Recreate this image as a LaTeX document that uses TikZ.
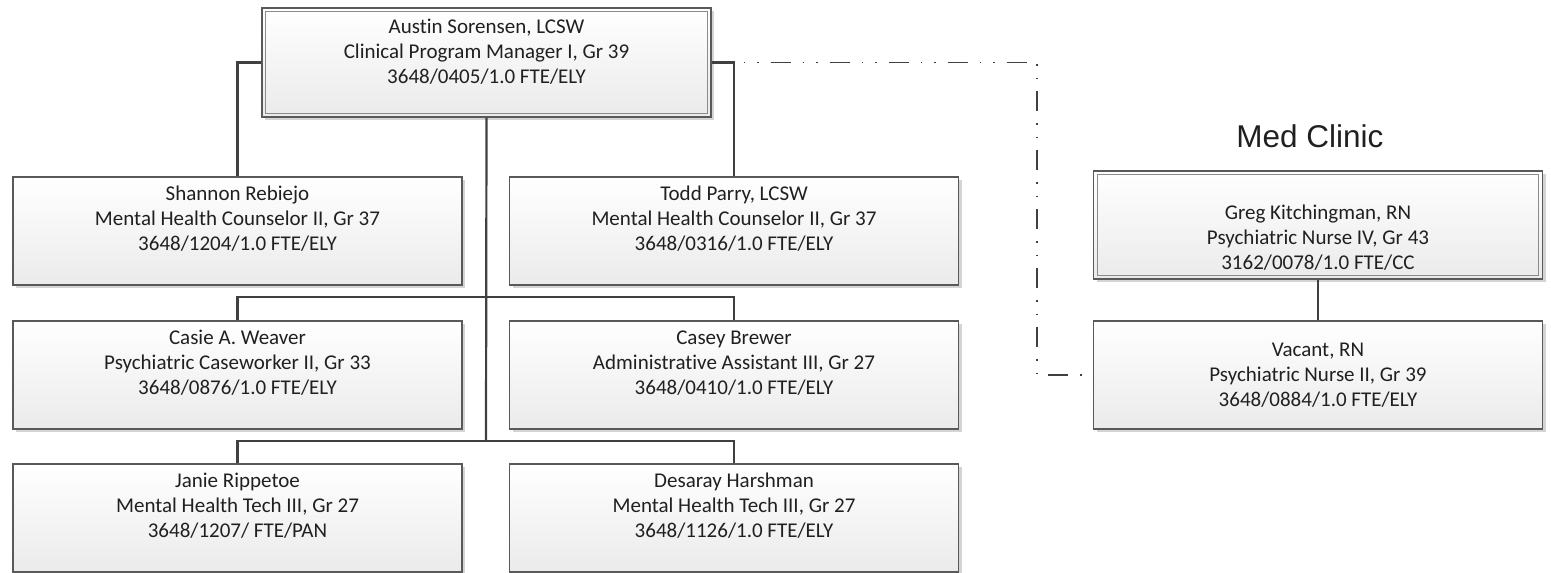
\documentclass[tikz,border=0pt]{standalone}
\usepackage{fontspec}
\setmainfont{Carlito}[Ligatures=NoCommon]
\newfontfamily\titlefont{Liberation Sans}
\usetikzlibrary{calc,shadows}
\definecolor{edge}{HTML}{595959}
\definecolor{wire}{HTML}{404040}
\definecolor{ink}{HTML}{202020}
\tikzset{
	unit/.style={draw=edge, line width=1.2pt, minimum width=449pt, minimum height=108pt, top color=white, bottom color=black!8,
		drop shadow={shadow xshift=3pt, shadow yshift=-3pt, fill=black!17, opacity=1}},
	info/.style={align=center, text=ink, font=\fontsize{21}{25}\selectfont, inner sep=0pt},
	link/.style={draw=wire, line width=2.2pt},
	dashlink/.style={draw=wire, line width=1.6pt, dash pattern=on 20pt off 12pt on 1.5pt off 12pt on 1.5pt off 12pt},
	frame/.style={draw=edge!70, line width=1pt}
}

\begin{document}
\begin{tikzpicture}[x=1pt, y=-1pt]
		%%%%% START %%%%%
		\useasboundingbox (0, 0) rectangle (1551, 573);
		
		\node[unit, minimum height=109pt] (austin) at (486.5, 62.5) {};
		\draw[frame] ($(austin.north west)+(4.5, 4.5)$) rectangle ($(austin.south east)+(-4.5, -4.5)$);
		\node[info] (austin-t) at ([yshift=11pt]austin.center) {Austin Sorensen, LCSW\\Clinical Program Manager I, Gr 39\\3648/0405/1.0 FTE/ELY};
		
		\node[unit] (shannon) at (237.5, 231) {};
		\node[info] (shannon-t) at ([yshift=12pt]shannon.center) {Shannon Rebiejo\\Mental Health Counselor II, Gr 37\\3648/1204/1.0 FTE/ELY};
		\node[unit] (todd) at (734, 231) {};
		\node[info] (todd-t) at ([yshift=12pt]todd.center) {Todd Parry, LCSW\\Mental Health Counselor II, Gr 37\\3648/0316/1.0 FTE/ELY};
		
		\node[unit] (casie) at (237.5, 375) {};
		\node[info] (casie-t) at ([yshift=12pt]casie.center) {Casie A. Weaver\\Psychiatric Caseworker II, Gr 33\\3648/0876/1.0 FTE/ELY};
		\node[unit] (casey) at (734, 375) {};
		\node[info] (casey-t) at ([yshift=12pt]casey.center) {Casey Brewer\\Administrative Assistant III, Gr 27\\3648/0410/1.0 FTE/ELY};
		
		\node[unit] (janie) at (237.5, 518) {};
		\node[info] (janie-t) at ([yshift=12pt]janie.center) {Janie Rippetoe\\Mental Health Tech III, Gr 27\\3648/1207/ FTE/PAN};
		\node[unit] (desaray) at (734, 518) {};
		\node[info] (desaray-t) at ([yshift=12pt]desaray.center) {Desaray Harshman\\Mental Health Tech III, Gr 27\\3648/1126/1.0 FTE/ELY};
		
		% med clinic
		\node[font=\titlefont\fontsize{31.5}{36}\selectfont, text=ink] (clinic) at (1310, 136) {Med Clinic};
		\node[unit] (greg) at (1318, 225) {};
		\draw[frame] ($(greg.north west)+(4.5, 4.5)$) rectangle ($(greg.south east)+(-4.5, -4.5)$);
		\node[info] (greg-t) at ([yshift=-13pt]greg.center) {Greg Kitchingman, RN\\Psychiatric Nurse IV, Gr 43\\3162/0078/1.0 FTE/CC};
		\node[unit] (vacant) at (1318, 375) {};
		\node[info] (vacant-t) at (vacant.center) {Vacant, RN\\Psychiatric Nurse II, Gr 39\\3648/0884/1.0 FTE/ELY};
		
		% lines
		\coordinate (bar1) at (486, 297);
		\coordinate (bar2) at (486, 441);
		\coordinate (jog) at (1037, 62.5);
		\draw[dashlink] (austin.east) -- (jog) |- (vacant.west);
		\draw[link] (austin.west) -| (shannon.north);
		\draw[link] (austin.east) -| (todd.north);
		\draw[link] (austin.south) -- (bar2);
		\draw[link] (casie.north) |- (bar1) -| (casey.north);
		\draw[link] (janie.north) |- (bar2) -| (desaray.north);
		\draw[link] (greg.south) -- (vacant.north);
		
		%%%%% END %%%%%
	\end{tikzpicture}
\end{document}
